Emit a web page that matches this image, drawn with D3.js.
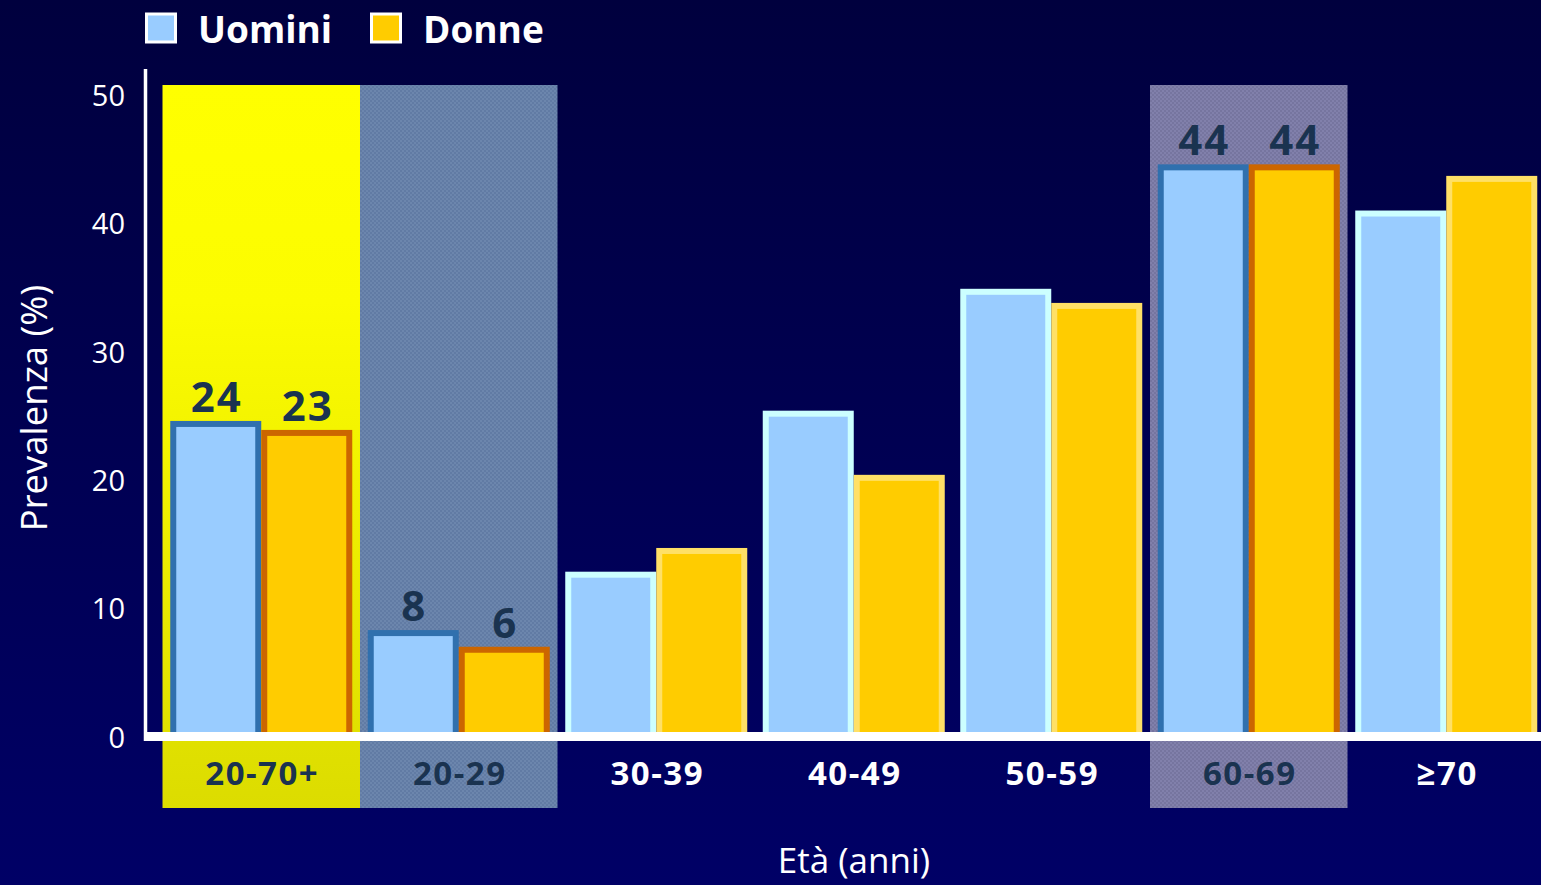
<!DOCTYPE html>
<html>
<head>
<meta charset="utf-8">
<script src="https://cdn.jsdelivr.net/npm/d3@7"></script>
<style>
  html, body { margin: 0; padding: 0; background: #000050; overflow: hidden; }
  svg { display: block; }
</style>
</head>
<body>
<svg id="chart" width="1541" height="885"></svg>
<script>
// ---- data ----
const categories = ["20-70+", "20-29", "30-39", "40-49", "50-59", "60-69", "≥70"];
const uomini = [24.4, 8.1, 12.65, 25.2, 34.7, 44.4, 40.8];
const donne  = [23.7, 6.8, 14.5, 20.2, 33.6, 44.4, 43.5];
const labelsUomini = ["24", "8", null, null, null, "44", null];
const labelsDonne  = ["23", "6", null, null, null, "44", null];
const highlighted = ["20-70+", "20-29", "60-69"];
const yTicks = [0, 10, 20, 30, 40, 50];
const seriesNames = ["Uomini", "Donne"];

// ---- setup ----
const W = 1541, H = 885;
const svg = d3.select("#chart");
const defs = svg.append("defs");

const bg = defs.append("linearGradient").attr("id", "bg").attr("x1", 0).attr("y1", 0).attr("x2", 0).attr("y2", 1);
bg.append("stop").attr("offset", "0%").attr("stop-color", "#00003e");
bg.append("stop").attr("offset", "100%").attr("stop-color", "#000066");

const yel = defs.append("linearGradient").attr("id", "yel").attr("x1", 0).attr("y1", 0).attr("x2", 0).attr("y2", 1);
yel.append("stop").attr("offset", "0%").attr("stop-color", "#ffff00");
yel.append("stop").attr("offset", "30%").attr("stop-color", "#fcfc00");
yel.append("stop").attr("offset", "100%").attr("stop-color", "#dcdc00");

function checker(id, c1, c2) {
  const p = defs.append("pattern").attr("id", id).attr("patternUnits", "userSpaceOnUse")
    .attr("width", 4).attr("height", 4);
  p.append("rect").attr("width", 4).attr("height", 4).attr("fill", c1);
  p.append("rect").attr("width", 2).attr("height", 2).attr("fill", c2);
  p.append("rect").attr("x", 2).attr("y", 2).attr("width", 2).attr("height", 2).attr("fill", c2);
}
checker("pBlue", "#617ba4", "#6c86ad");
checker("pPurp", "#76759f", "#8180ab");

svg.append("rect").attr("width", W).attr("height", H).attr("fill", "url(#bg)");

const x = d3.scaleBand().domain(categories).range([162.5, 1545]).paddingInner(0).paddingOuter(0);
const y = d3.scaleLinear().domain([0, 50]).range([737, 95.5]);

const panelTop = 85, panelBottom = 808;
const panelFill = { "20-70+": "url(#yel)", "20-29": "url(#pBlue)", "60-69": "url(#pPurp)" };

// highlight panels
svg.append("g").selectAll("rect").data(highlighted).join("rect")
  .attr("x", d => x(d))
  .attr("y", panelTop)
  .attr("width", x.bandwidth())
  .attr("height", panelBottom - panelTop)
  .attr("fill", d => panelFill[d]);

// bars
const sw = 6;
const barOuter = 91;
const rows = categories.map((c, i) => ({ c, i, u: uomini[i], d: donne[i], hl: highlighted.includes(c) }));

const barData = [];
rows.forEach(r => {
  const cx = x(r.c) + x.bandwidth() / 2;
  barData.push({ c: r.c, v: r.u, x0: cx - barOuter, s: 0, hl: r.hl, label: labelsUomini[r.i] });
  barData.push({ c: r.c, v: r.d, x0: cx, s: 1, hl: r.hl, label: labelsDonne[r.i] });
});

const fills = ["#99ccff", "#ffcc00"];
const strokesHL = ["#3070ae", "#cc6600"];
const strokesNorm = ["#ccffff", "#ffe066"];

svg.append("g").selectAll("rect").data(barData).join("rect")
  .attr("x", d => d.x0 + sw / 2)
  .attr("y", d => y(d.v))
  .attr("width", barOuter - sw)
  .attr("height", d => y(0) - y(d.v))
  .attr("fill", d => fills[d.s])
  .attr("stroke", d => d.hl ? strokesHL[d.s] : strokesNorm[d.s])
  .attr("stroke-width", sw);

// value labels
svg.append("g").selectAll("text").data(barData.filter(d => d.label)).join("text")
  .attr("x", d => d.x0 + barOuter / 2 + 1)
  .attr("y", d => y(d.v) - 12)
  .attr("text-anchor", "middle")
  .attr("font-family", "'Open Sans', sans-serif")
  .attr("font-weight", 700)
  .attr("font-size", 42)
  .attr("letter-spacing", 2)
  .attr("fill", "#1a3350")
  .text(d => d.label);

// axes lines
svg.append("line").attr("x1", 145.5).attr("x2", 145.5).attr("y1", 69).attr("y2", 741)
  .attr("stroke", "#ffffff").attr("stroke-width", 3.5);
svg.append("line").attr("x1", 144).attr("x2", W).attr("y1", y(0) - 0.5).attr("y2", y(0) - 0.5)
  .attr("stroke", "#ffffff").attr("stroke-width", 9);

// y tick labels
svg.append("g").selectAll("text").data(yTicks).join("text")
  .attr("x", 125)
  .attr("y", d => y(d) + 10.5)
  .attr("text-anchor", "end")
  .attr("font-family", "'Open Sans', sans-serif")
  .attr("font-size", 29)
  .attr("fill", "#ffffff")
  .text(d => d);

// category labels
svg.append("g").selectAll("text").data(categories).join("text")
  .attr("x", d => x(d) + x.bandwidth() / 2 + 1)
  .attr("y", 785)
  .attr("text-anchor", "middle")
  .attr("font-family", "'Open Sans', sans-serif")
  .attr("font-weight", 700)
  .attr("font-size", 33)
  .attr("letter-spacing", 1.5)
  .attr("fill", d => highlighted.includes(d) ? "#1a3350" : "#ffffff")
  .text(d => d);

// axis titles
svg.append("text")
  .attr("transform", "translate(47,408) rotate(-90)")
  .attr("text-anchor", "middle")
  .attr("font-family", "'Open Sans', sans-serif")
  .attr("font-size", 36.5)
  .attr("fill", "#ffffff")
  .text("Prevalenza (%)");

svg.append("text")
  .attr("x", 854).attr("y", 873)
  .attr("text-anchor", "middle")
  .attr("font-family", "'Open Sans', sans-serif")
  .attr("font-size", 35)
  .attr("fill", "#ffffff")
  .text("Età (anni)");

// legend
const legendX = [145, 370];
const lg = svg.append("g").selectAll("g").data(seriesNames).join("g")
  .attr("transform", (d, i) => `translate(${legendX[i]},0)`);
lg.append("rect").attr("x", 1.5).attr("y", 14).attr("width", 29).attr("height", 28)
  .attr("fill", (d, i) => fills[i]).attr("stroke", "#ffffff").attr("stroke-width", 3);
lg.append("text").attr("x", 53).attr("y", 43)
  .attr("font-family", "'Open Sans', sans-serif")
  .attr("font-weight", 700)
  .attr("font-size", 37)
  .attr("fill", "#ffffff")
  .text(d => d);
</script>
</body>
</html>
